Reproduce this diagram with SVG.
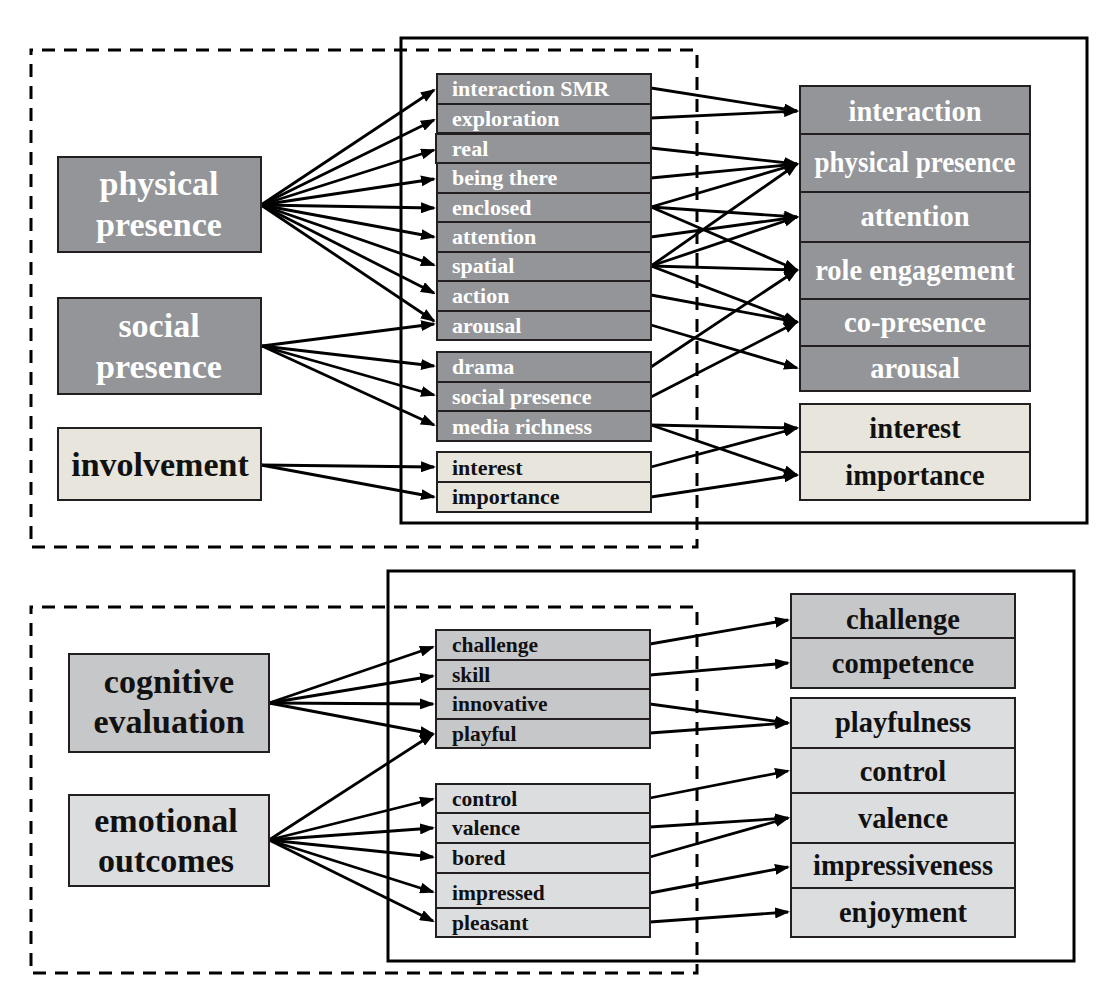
<svg xmlns="http://www.w3.org/2000/svg" width="1103" height="986" viewBox="0 0 1103 986">
<style>
.frame{fill:none;stroke:#000;stroke-width:3}
.dash{fill:none;stroke:#000;stroke-width:3;stroke-dasharray:13,9;stroke-dashoffset:11}
.dk{fill:#939598;stroke:#231f20;stroke-width:2}
.bg{fill:#e7e5dc;stroke:#231f20;stroke-width:2}
.md{fill:#c6c7c9;stroke:#231f20;stroke-width:2}
.lt{fill:#dcdddf;stroke:#231f20;stroke-width:2}
text{font-family:"Liberation Serif","Times New Roman",serif;font-weight:bold}
.w{fill:#fff}
.b{fill:#111}
.big{font-size:34px;text-anchor:middle}
.mt{font-size:22px}
.mb{font-size:21.5px}
.rt{font-size:28.5px;text-anchor:middle}
.c{stroke:#000;stroke-width:2.8;fill:none;marker-end:url(#ah)}
</style>
<defs>
<marker id="ah" markerUnits="userSpaceOnUse" markerWidth="15" markerHeight="11" refX="13" refY="5.5" orient="auto">
<path d="M0,0 L15,5.5 L0,11 z" fill="#000"/>
</marker>
</defs>
<rect width="1103" height="986" fill="#fff"/>

<g id="frames">
<rect class="frame" x="401" y="38" width="686" height="485"/>
<rect class="dash" x="31" y="50" width="666" height="497"/>
<rect class="frame" x="388" y="571" width="686" height="390"/>
<rect class="dash" x="31" y="607" width="666" height="366"/>
</g>

<g id="connectors">
<line class="c" x1="261" y1="205" x2="434" y2="90"/>
<line class="c" x1="261" y1="205" x2="434" y2="120"/>
<line class="c" x1="261" y1="205" x2="434" y2="150"/>
<line class="c" x1="261" y1="205" x2="434" y2="179"/>
<line class="c" x1="261" y1="205" x2="434" y2="208"/>
<line class="c" x1="261" y1="205" x2="434" y2="237"/>
<line class="c" x1="261" y1="205" x2="434" y2="265"/>
<line class="c" x1="261" y1="205" x2="434" y2="293"/>
<line class="c" x1="261" y1="205" x2="434" y2="321"/>
<line class="c" x1="262" y1="346" x2="434" y2="324"/>
<line class="c" x1="262" y1="346" x2="434" y2="366"/>
<line class="c" x1="262" y1="346" x2="434" y2="395"/>
<line class="c" x1="262" y1="346" x2="434" y2="425"/>
<line class="c" x1="261" y1="465" x2="434" y2="467"/>
<line class="c" x1="261" y1="465" x2="434" y2="497"/>

<line class="c" x1="651" y1="88" x2="797" y2="111"/>
<line class="c" x1="651" y1="118" x2="797" y2="111"/>
<line class="c" x1="651" y1="148" x2="797" y2="164"/>
<line class="c" x1="651" y1="178" x2="797" y2="164"/>
<line class="c" x1="651" y1="207" x2="797" y2="164"/>
<line class="c" x1="651" y1="207" x2="797" y2="217"/>
<line class="c" x1="651" y1="207" x2="797" y2="270"/>
<line class="c" x1="651" y1="237" x2="797" y2="217"/>
<line class="c" x1="651" y1="266" x2="797" y2="164"/>
<line class="c" x1="651" y1="266" x2="797" y2="217"/>
<line class="c" x1="651" y1="266" x2="797" y2="270"/>
<line class="c" x1="651" y1="266" x2="797" y2="322"/>
<line class="c" x1="651" y1="295" x2="797" y2="322"/>
<line class="c" x1="651" y1="325" x2="797" y2="368"/>
<line class="c" x1="651" y1="367" x2="797" y2="270"/>
<line class="c" x1="651" y1="397" x2="797" y2="322"/>
<line class="c" x1="651" y1="425" x2="797" y2="428"/>
<line class="c" x1="651" y1="425" x2="797" y2="475"/>
<line class="c" x1="651" y1="467" x2="797" y2="428"/>
<line class="c" x1="651" y1="497" x2="797" y2="475"/>

<line class="c" x1="269" y1="703" x2="433" y2="647"/>
<line class="c" x1="269" y1="703" x2="433" y2="676"/>
<line class="c" x1="269" y1="703" x2="433" y2="704"/>
<line class="c" x1="269" y1="703" x2="433" y2="734"/>
<line class="c" x1="269" y1="840" x2="433" y2="734"/>
<line class="c" x1="269" y1="840" x2="433" y2="799"/>
<line class="c" x1="269" y1="840" x2="433" y2="828"/>
<line class="c" x1="269" y1="840" x2="433" y2="857"/>
<line class="c" x1="269" y1="840" x2="433" y2="892"/>
<line class="c" x1="269" y1="840" x2="433" y2="921"/>

<line class="c" x1="650" y1="644" x2="788" y2="620"/>
<line class="c" x1="650" y1="675" x2="788" y2="663"/>
<line class="c" x1="650" y1="704" x2="788" y2="723"/>
<line class="c" x1="650" y1="733" x2="788" y2="723"/>
<line class="c" x1="650" y1="798" x2="788" y2="771"/>
<line class="c" x1="650" y1="827" x2="788" y2="818"/>
<line class="c" x1="650" y1="857" x2="788" y2="818"/>
<line class="c" x1="650" y1="893" x2="788" y2="867"/>
<line class="c" x1="650" y1="922" x2="788" y2="912"/>
</g>

<g id="n-physical-presence"><rect class="dk" x="58" y="157" width="203" height="95"/><text class="big w" x="159" y="195">physical</text><text class="big w" x="159" y="236">presence</text></g>
<g id="n-social-presence"><rect class="dk" x="58" y="298" width="203" height="96"/><text class="big w" x="159" y="337">social</text><text class="big w" x="159" y="378">presence</text></g>
<g id="n-involvement"><rect class="bg" x="58" y="428" width="203" height="72"/><text class="big b" x="160" y="476">involvement</text></g>

<g id="m-interaction-smr"><rect class="dk" x="437" y="74" width="214" height="30"/><text class="mt w" x="452" y="96">interaction SMR</text></g>
<g id="m-exploration"><rect class="dk" x="437" y="104" width="214" height="29"/><text class="mt w" x="452" y="126">exploration</text></g>
<g id="m-real"><rect class="dk" x="436" y="134" width="215" height="29"/><text class="mt w" x="452" y="156">real</text></g>
<g id="m-being-there"><rect class="dk" x="437" y="163" width="214" height="30"/><text class="mt w" x="452" y="185">being there</text></g>
<g id="m-enclosed"><rect class="dk" x="437" y="193" width="214" height="29"/><text class="mt w" x="452" y="215">enclosed</text></g>
<g id="m-attention"><rect class="dk" x="437" y="222" width="214" height="30"/><text class="mt w" x="452" y="244">attention</text></g>
<g id="m-spatial"><rect class="dk" x="437" y="252" width="214" height="29"/><text class="mt w" x="452" y="273">spatial</text></g>
<g id="m-action"><rect class="dk" x="437" y="281" width="214" height="30"/><text class="mt w" x="452" y="303">action</text></g>
<g id="m-arousal"><rect class="dk" x="437" y="311" width="214" height="29"/><text class="mt w" x="452" y="333">arousal</text></g>
<g id="m-drama"><rect class="dk" x="437" y="352" width="214" height="30"/><text class="mt w" x="452" y="374">drama</text></g>
<g id="m-social-presence"><rect class="dk" x="437" y="382" width="214" height="29"/><text class="mt w" x="452" y="404">social presence</text></g>
<g id="m-media-richness"><rect class="dk" x="437" y="411" width="214" height="30"/><text class="mt w" x="452" y="434">media richness</text></g>
<g id="m-interest"><rect class="bg" x="437" y="452" width="214" height="30"/><text class="mt b" x="452" y="475">interest</text></g>
<g id="m-importance"><rect class="bg" x="437" y="482" width="214" height="30"/><text class="mt b" x="452" y="504">importance</text></g>

<g id="r-interaction"><rect class="dk" x="800" y="86" width="230" height="48"/><text class="rt w" x="915" y="121">interaction</text></g>
<g id="r-physical-presence"><rect class="dk" x="800" y="134" width="230" height="58"/><text class="rt w" x="915" y="172" textLength="201" lengthAdjust="spacingAndGlyphs">physical presence</text></g>
<g id="r-attention"><rect class="dk" x="800" y="192" width="230" height="50"/><text class="rt w" x="915" y="226">attention</text></g>
<g id="r-role-engagement"><rect class="dk" x="800" y="242" width="230" height="57"/><text class="rt w" x="915" y="280">role engagement</text></g>
<g id="r-co-presence"><rect class="dk" x="800" y="299" width="230" height="47"/><text class="rt w" x="915" y="332">co-presence</text></g>
<g id="r-arousal"><rect class="dk" x="800" y="346" width="230" height="45"/><text class="rt w" x="915" y="378">arousal</text></g>
<g id="r-interest"><rect class="bg" x="800" y="404" width="230" height="48"/><text class="rt b" x="915" y="438">interest</text></g>
<g id="r-importance"><rect class="bg" x="800" y="452" width="230" height="48"/><text class="rt b" x="915" y="485">importance</text></g>

<g id="n-cognitive-evaluation"><rect class="md" x="69" y="654" width="200" height="98"/><text class="big b" x="169" y="693">cognitive</text><text class="big b" x="169" y="733">evaluation</text></g>
<g id="n-emotional-outcomes"><rect class="lt" x="69" y="795" width="200" height="91"/><text class="big b" x="166" y="832">emotional</text><text class="big b" x="166" y="872">outcomes</text></g>

<g id="m-challenge"><rect class="md" x="436" y="630" width="214" height="30"/><text class="mb b" x="452" y="652">challenge</text></g>
<g id="m-skill"><rect class="md" x="436" y="660" width="214" height="29"/><text class="mb b" x="452" y="682">skill</text></g>
<g id="m-innovative"><rect class="md" x="436" y="689" width="214" height="30"/><text class="mb b" x="452" y="711">innovative</text></g>
<g id="m-playful"><rect class="md" x="436" y="719" width="214" height="29"/><text class="mb b" x="452" y="741">playful</text></g>
<g id="m-control"><rect class="lt" x="436" y="784" width="214" height="29"/><text class="mb b" x="452" y="806">control</text></g>
<g id="m-valence"><rect class="lt" x="436" y="813" width="214" height="30"/><text class="mb b" x="452" y="835">valence</text></g>
<g id="m-bored"><rect class="lt" x="436" y="843" width="214" height="30"/><text class="mb b" x="452" y="865">bored</text></g>
<g id="m-impressed"><rect class="lt" x="436" y="873" width="214" height="35"/><text class="mb b" x="452" y="900">impressed</text></g>
<g id="m-pleasant"><rect class="lt" x="436" y="908" width="214" height="29"/><text class="mb b" x="452" y="930">pleasant</text></g>

<g id="r-challenge"><rect class="md" x="791" y="594" width="224" height="44"/><text class="rt b" x="903" y="629">challenge</text></g>
<g id="r-competence"><rect class="md" x="791" y="638" width="224" height="50"/><text class="rt b" x="903" y="673">competence</text></g>
<g id="r-playfulness"><rect class="lt" x="791" y="698" width="224" height="50"/><text class="rt b" x="903" y="732">playfulness</text></g>
<g id="r-control"><rect class="lt" x="791" y="748" width="224" height="45"/><text class="rt b" x="903" y="781">control</text></g>
<g id="r-valence"><rect class="lt" x="791" y="793" width="224" height="50"/><text class="rt b" x="903" y="828">valence</text></g>
<g id="r-impressiveness"><rect class="lt" x="791" y="843" width="224" height="45"/><text class="rt b" x="903" y="875">impressiveness</text></g>
<g id="r-enjoyment"><rect class="lt" x="791" y="888" width="224" height="49"/><text class="rt b" x="903" y="922">enjoyment</text></g>
</svg>
